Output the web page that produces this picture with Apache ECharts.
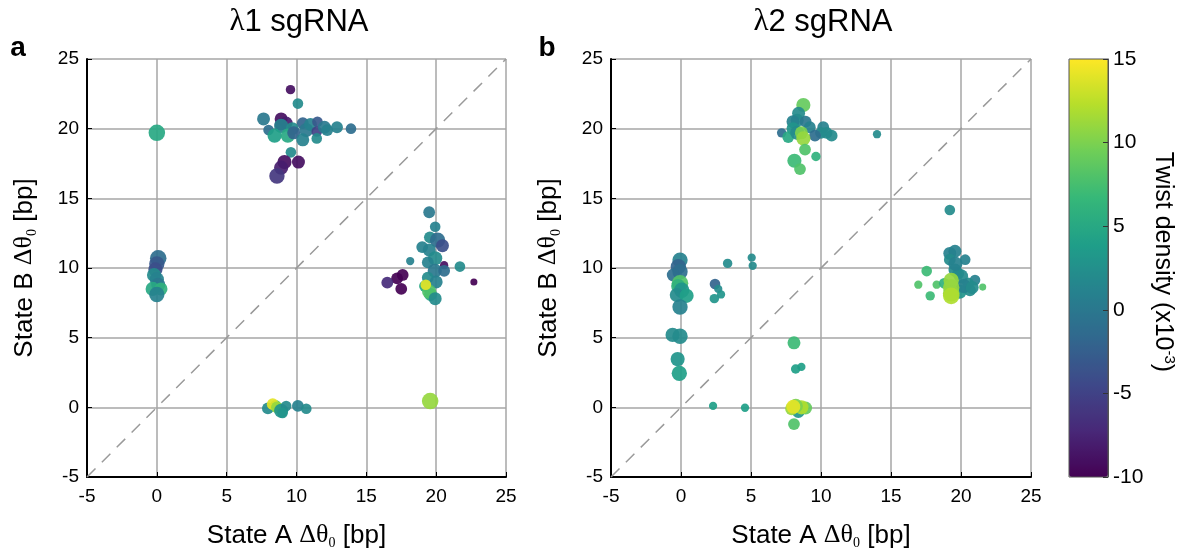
<!DOCTYPE html>
<html><head><meta charset="utf-8">
<script src="https://cdn.jsdelivr.net/npm/echarts@6/dist/echarts.min.js"></script>
<style>html,body{margin:0;padding:0;background:#fff}#c{width:1180px;height:556px}</style>
</head><body><div id="c"></div>
<script>
// ---- data: panel a (λ1 sgRNA) ----
const aStateA = [0.0, 0.1,0.0,-0.1,-0.2,0.0,0.1,-0.3,0.3,0.0,
 9.57,10.1,7.64,8.9,9.26,8.86,8.9,9.7,10.45,10.7,11.0,11.5,11.45,12.0,12.2,12.9,13.9,8.0,8.43,9.38,9.8,10.45,11.45,9.6,9.14,10.14,8.9,8.6,
 19.5,19.93,19.55,20.1,20.45,19.0,19.5,19.93,18.14,19.4,20.57,21.7,19.9,20.57,17.6,17.2,16.5,17.5,22.7,19.4,20.0,19.2,19.6,19.5,19.93,19.26,
 7.95,8.5,8.3,8.6,8.9,9.26,9.0,10.1,10.7,
 19.57];
const aStateB = [19.7, 10.7,10.3,9.9,9.5,9.2,8.8,8.5,8.5,8.1,
 22.8,21.8,20.7,20.7,20.4,20.3,20.2,20.0,20.4,19.9,20.3,20.5,19.8,20.1,19.9,20.1,20.0,19.9,19.5,19.5,19.7,19.2,19.3,18.3,17.6,17.6,17.2,16.6,
 14.0,12.96,12.2,12.0,11.6,11.5,11.3,10.7,10.5,10.4,10.2,10.1,9.8,9.8,9.5,9.25,8.95,8.5,9.0,9.3,9.0,8.7,8.1,8.3,7.8,8.8,
 -0.08,0.1,0.23,0.0,-0.25,0.1,-0.4,0.1,-0.1,
 0.45];
const aTwist = [5, -1,-3,-4,2,1,0,5,6,1,
 -9,2,0,-9,-8,-8,1,2,-2,0,1,-3,-5,0,1,1,-1,-1,4,5,-2,1,2,2,-9,-9,-8,-6,
 0,1,2,-1,-4,1,1,2,1,1,-9,2,0,-1,-10,-10,-7,-10,-10,2,1,5,5,8,2,14,
 2,8,14,11,3,2,3,1,2,
 11];
const aWeight = [14, 14,13,12,12,12,12,12,11,13,
 8,9,11,11,11,10,12,11,10,12,11,9,9,11,10,10,9,9,12,12,11,11,9,9,12,11,12,13,
 10,9,10,13,11,10,11,12,7,10,7,9,12,10,10,10,10,10,6,10,11,10,11,12,11,9,
 10,10,10,10,12,9,9,10,9,
 14];

// ---- data: panel b (λ2 sgRNA) ----
const bStateA = [8.74,8.4,8.3,8.0,8.9,8.0,9.2,10.16,10.0,10.4,10.76,9.57,7.19,7.66,8.3,8.6,8.74,8.86,8.1,9.64,8.5,14.0,
 -0.07,-0.19,-0.07,-0.55,-0.07,-0.2,0.05,-0.3,0.4,-0.07,-0.6,-0.07,-0.24,-0.12,
 3.33,5.05,5.12,2.43,2.66,2.86,2.38,
 8.07,8.19,8.6,8.38,8.07,8.9,8.6,8.2,7.9,8.02,4.57,2.29,
 19.2,19.2,19.57,20.3,19.2,19.57,19.8,17.55,16.95,18.26,17.8,21.55,21.0,20.5,20.64,19.9,18.8,20.0,20.2,19.6,20.8,19.3,19.3,19.3,19.3];
const bStateB = [21.7,21.1,20.6,20.5,20.5,20.0,20.1,20.1,19.7,19.7,19.5,19.5,19.7,19.4,19.7,19.7,19.3,18.5,17.7,18.0,17.1,19.6,
 10.57,10.1,9.73,9.5,8.9,8.7,8.4,8.06,8.0,7.2,5.2,5.1,3.46,2.44,
 10.33,10.74,10.16,8.85,8.5,8.1,7.8,
 4.63,2.75,2.9,-0.3,-1.2,-0.05,0.0,0.1,-0.1,0.04,-0.03,0.1,
 14.16,11.05,11.2,10.6,10.6,9.85,9.6,9.78,8.8,8.8,8.0,8.63,9.13,8.9,8.4,8.3,8.9,9.4,8.7,10.3,8.6,9.1,8.6,8.18,8.0];
const bTwist = [9,2,2,1,0,3,1,1,2,2,2,-1,-1,5,2,10,11,8,7,6,8,2,
 1,-2,-1,-1,8,6,3,2,4,1,2,2,3,4,
 2,2,2,-2,2,3,3,
 7,4,4,3,8,9,12,10,11,14,4,4,
 2,1,1,1,2,2,2,7,8,8,7,8,1,2,2,3,6,2,1,1,2,11,11,11,12];
const bWeight = [12,11,11,11,10,11,10,10,10,10,10,10,8,10,12,11,12,10,12,8,10,7,
 13,13,13,11,14,12,13,12,12,13,12,13,12,13,
 8,7,7,9,7,7,8,
 11,8,7,11,10,11,12,12,11,12,7,7,
 9,11,11,9,10,11,10,9,7,7,8,6,9,10,10,12,9,12,12,12,11,13,14,14,14];

// ---- axes / reference line / colour scale ----
const axisMin = -5, axisMax = 25, axisStep = 5;
const twistMin = -10, twistMax = 15, twistStep = 5;
const diagonal = [[-5, -5], [25, 25]];
const viridis = ['#440154','#482878','#3e4989','#31688e','#26828e','#1f9e89','#35b779','#6ece58','#b5de2b','#fde725'];

function zip(x, y, t, w) { return x.map((v, i) => [v, y[i], t[i], w[i]]); }

const font = '"Liberation Sans", Arial, sans-serif';
const serif = '"Liberation Serif", "Times New Roman", serif';
const nameRich = {
  t: { fontSize: 26, fontFamily: font, color: '#000' },
  g: { fontSize: 26, fontFamily: serif, color: '#000' },
  s: { fontSize: 14, fontFamily: serif, color: '#000', padding: [15, 0, 0, 0] }
};
function panelAxis(gridIndex, isX) {
  return {
    gridIndex, type: 'value', min: axisMin, max: axisMax, interval: axisStep,
    name: isX ? '{t|State A }{g|Δθ}{s|0}{t| [bp]}' : '{t|State B }{g|Δθ}{s|0}{t| [bp]}',
    nameLocation: 'middle', nameGap: isX ? 44 : 48,
    nameTextStyle: { rich: nameRich },
    axisLine: { show: true, onZero: false, lineStyle: { color: '#000', width: 2 } },
    axisTick: { show: true, inside: true, length: 5, lineStyle: { color: '#000', width: 1 } },
    axisLabel: { color: '#000', fontSize: 19, fontFamily: font, margin: isX ? 10 : 8 },
    splitLine: { show: true, lineStyle: { color: '#a6a6a6', width: 1.5 } }
  };
}

const chart = echarts.init(document.getElementById('c'), null, { renderer: 'canvas' });
const option = {
  animation: false,
  backgroundColor: '#fff',
  grid: [
    { left: 87, top: 59, width: 419, height: 418 },
    { left: 611, top: 59, width: 420, height: 418 },
    { left: 1069, top: 59, width: 39, height: 418, show: true, borderColor: '#555', borderWidth: 1, z: 10 }
  ],
  xAxis: [panelAxis(0, true), panelAxis(1, true),
    { gridIndex: 2, type: 'value', min: 0, max: 1, show: false }],
  yAxis: [panelAxis(0, false), panelAxis(1, false),
    { gridIndex: 2, type: 'value', min: twistMin, max: twistMax, interval: twistStep, position: 'right',
      zlevel: 1, z: 10,
      name: '{t|Twist density (x10}{p|-3}{t|)}', nameLocation: 'middle', nameRotate: -90, nameGap: 40,
      nameTextStyle: { padding: [0, 12, 0, 0], rich: {
        t: { fontSize: 25, fontFamily: font, color: '#000' },
        p: { fontSize: 15, fontFamily: font, color: '#000', padding: [0, 0, 14, 0] } } },
      axisLine: { show: true, onZero: false, lineStyle: { color: '#555', width: 1 } },
      axisTick: { show: true, inside: true, length: 5, lineStyle: { color: '#333', width: 1 } },
      axisLabel: { color: '#000', fontSize: 21, fontFamily: font, margin: 5 },
      splitLine: { show: false } }],
  visualMap: {
    type: 'continuous', min: twistMin, max: twistMax, dimension: 2, seriesIndex: [1, 3],
    show: true, calculable: false, left: 1069, top: 59, itemWidth: 39, itemHeight: 418,
    padding: 0, z: 2, inRange: { color: viridis }
  },
  graphic: [
    { type: 'text', x: 299, y: 22, style: { text: '{l|λ}1 sgRNA', fontSize: 31, fontFamily: font, fill: '#000',
      align: 'center', verticalAlign: 'middle', textAlign: 'center', textVerticalAlign: 'middle',
      rich: { l: { fontSize: 31, fontFamily: serif, fill: '#000' } } } },
    { type: 'text', x: 823, y: 22, style: { text: '{l|λ}2 sgRNA', fontSize: 31, fontFamily: font, fill: '#000',
      align: 'center', verticalAlign: 'middle', textAlign: 'center', textVerticalAlign: 'middle',
      rich: { l: { fontSize: 31, fontFamily: serif, fill: '#000' } } } },
    { type: 'text', x: 18, y: 48, style: { text: 'a', fontSize: 28, fontWeight: 'bold', fontFamily: font, fill: '#000',
      align: 'center', verticalAlign: 'middle', textAlign: 'center', textVerticalAlign: 'middle' } },
    { type: 'text', x: 547, y: 48, style: { text: 'b', fontSize: 28, fontWeight: 'bold', fontFamily: font, fill: '#000',
      align: 'center', verticalAlign: 'middle', textAlign: 'center', textVerticalAlign: 'middle' } }
  ],
  series: [
    { type: 'line', xAxisIndex: 0, yAxisIndex: 0, data: diagonal, symbol: 'none', silent: true, z: 1,
      lineStyle: { color: '#9a9a9a', width: 1.5, type: [12, 9] } },
    { type: 'scatter', xAxisIndex: 0, yAxisIndex: 0, data: zip(aStateA, aStateB, aTwist, aWeight),
      symbolSize: d => d[3] * 1.18, itemStyle: { opacity: 0.92 }, z: 3, emphasis: { disabled: true } },
    { type: 'line', xAxisIndex: 1, yAxisIndex: 1, data: diagonal, symbol: 'none', silent: true, z: 1,
      lineStyle: { color: '#9a9a9a', width: 1.5, type: [12, 9] } },
    { type: 'scatter', xAxisIndex: 1, yAxisIndex: 1, data: zip(bStateA, bStateB, bTwist, bWeight),
      symbolSize: d => d[3] * 1.18, itemStyle: { opacity: 0.92 }, z: 3, emphasis: { disabled: true } }
  ]
};
chart.setOption(option);
</script>
</body></html>
